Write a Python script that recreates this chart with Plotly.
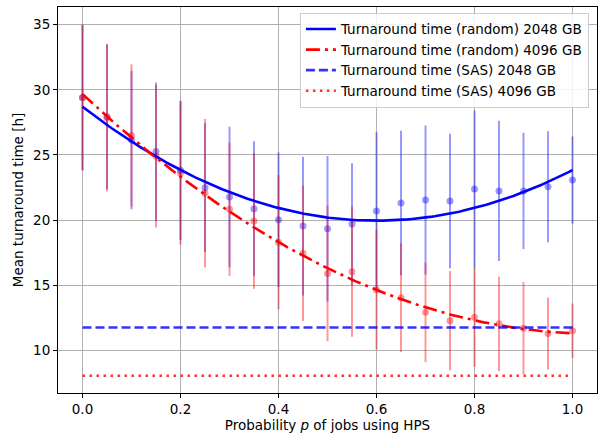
import numpy as np
import plotly.graph_objects as go

# ---- data ----
p = [0.0, 0.05, 0.1, 0.15, 0.2, 0.25, 0.3, 0.35, 0.4, 0.45, 0.5,
     0.55, 0.6, 0.65, 0.7, 0.75, 0.8, 0.85, 0.9, 0.95, 1.0]
rand2048_mean = [29.42, 27.93, 26.14, 25.26, 23.82, 22.49, 21.77, 20.87, 20.03, 19.54, 19.33,
                 19.69, 20.69, 21.31, 21.54, 21.46, 22.38, 22.24, 22.24, 22.55, 23.07]
rand2048_err = [5.58, 5.57, 5.32, 5.30, 5.35, 4.95, 5.40, 5.18, 5.17, 5.33, 5.58,
                4.67, 6.06, 5.54, 5.72, 5.16, 6.03, 5.38, 4.47, 4.26, 3.35]
rand4096_mean = [29.40, 27.85, 26.50, 24.90, 23.60, 22.06, 20.83, 19.93, 18.30, 17.45, 15.90,
                 16.03, 14.64, 14.04, 12.92, 12.27, 12.54, 12.03, 11.69, 11.28, 11.50]
rand4096_err = [5.60, 5.65, 5.47, 5.47, 5.50, 5.70, 5.12, 5.20, 5.15, 5.20, 5.20,
                5.00, 4.59, 4.17, 3.82, 3.81, 3.82, 3.62, 3.54, 2.77, 2.09]
# quadratic fit coefficients (highest power first)
fit2048_coef = [24.3, -29.16, 28.70]
fit4096_coef = [16.74, -35.11, 29.67]
sas2048 = 11.75
sas4096 = 8.05
x_ticks = [0.0, 0.2, 0.4, 0.6, 0.8, 1.0]
y_ticks = [10, 15, 20, 25, 30, 35]

pf = np.linspace(p[0], p[-1], 200)
fit2048 = np.polyval(fit2048_coef, pf)
fit4096 = np.polyval(fit4096_coef, pf)

BLUE = "#0000ff"
RED = "#ff0000"
FONT = "DejaVu Sans"
FS = 13.5

fig = go.Figure()

# error bar points (not in legend)
fig.add_trace(go.Scatter(
    x=p, y=rand2048_mean, mode="markers", showlegend=False,
    marker=dict(color="rgba(0,0,255,0.4)", size=7),
    error_y=dict(type="data", array=rand2048_err, color="rgba(0,0,255,0.4)",
                 thickness=2, width=0)))
fig.add_trace(go.Scatter(
    x=p, y=rand4096_mean, mode="markers", showlegend=False,
    marker=dict(color="rgba(255,0,0,0.4)", size=7),
    error_y=dict(type="data", array=rand4096_err, color="rgba(255,0,0,0.4)",
                 thickness=2, width=0)))

# fit curves and SAS lines
fig.add_trace(go.Scatter(
    x=pf, y=fit2048, mode="lines", name="Turnaround time (random) 2048 GB",
    legendgroup="a", line=dict(color=BLUE, width=2.6)))
fig.add_trace(go.Scatter(
    x=pf, y=fit4096, mode="lines", name="Turnaround time (random) 4096 GB",
    legendgroup="b", line=dict(color=RED, width=2.6, dash="14px,5px,3px,5px")))
fig.add_trace(go.Scatter(
    x=[p[0], p[-1]], y=[sas2048, sas2048], mode="lines",
    name="Turnaround time (SAS) 2048 GB", legendgroup="c",
    line=dict(color="rgba(0,0,255,0.8)", width=2.6, dash="9px,4px")))
fig.add_trace(go.Scatter(
    x=[p[0], p[-1]], y=[sas4096, sas4096], mode="lines",
    name="Turnaround time (SAS) 4096 GB", legendgroup="d",
    line=dict(color="rgba(255,0,0,0.8)", width=2.6, dash="2.5px,4.5px")))

axis_common = dict(
    showline=True, mirror=True, linecolor="black", linewidth=1,
    ticks="outside", ticklen=4, tickcolor="black", tickwidth=1,
    showgrid=True, gridcolor="#b0b0b0", gridwidth=1, zeroline=False,
    tickfont=dict(family=FONT, size=FS, color="black"),
)

fig.update_layout(
    width=601, height=438,
    margin=dict(l=58, r=4, t=7, b=45),
    paper_bgcolor="white", plot_bgcolor="white",
    font=dict(family=FONT, size=FS, color="black"),
    xaxis=dict(range=[-0.05, 1.05], tickvals=x_ticks, tickformat=".1f",
               title=dict(text="Probability <i>p</i> of jobs using HPS",
                          font=dict(family=FONT, size=FS), standoff=4),
               **axis_common),
    yaxis=dict(range=[6.72, 36.36], tickvals=y_ticks,
               title=dict(text="Mean turnaround time [h]",
                          font=dict(family=FONT, size=FS), standoff=6),
               **axis_common),
    legend=dict(x=0.985, y=0.985, xanchor="right", yanchor="top",
                bgcolor="rgba(255,255,255,0.85)", bordercolor="#cccccc",
                borderwidth=1, traceorder="grouped", tracegroupgap=0,
                font=dict(family=FONT, size=FS)),
)

fig.write_html("out.html")
